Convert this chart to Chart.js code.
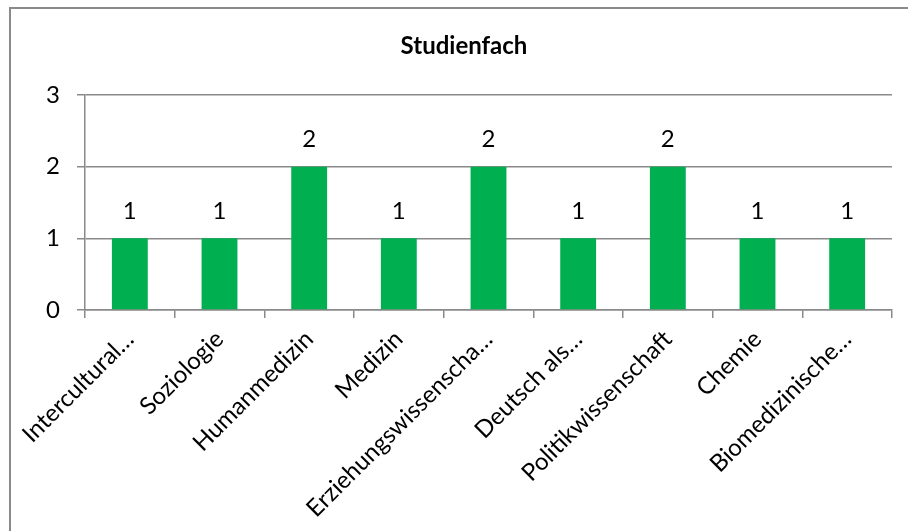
<!DOCTYPE html>
<html>
<head>
<meta charset="utf-8">
<script src="https://cdn.jsdelivr.net/npm/chart.js@4/dist/chart.umd.min.js"></script>
<style>
  html, body { margin: 0; padding: 0; background: #ffffff; overflow: hidden; }
  #wrap { position: relative; width: 908px; height: 531px; overflow: hidden; }
  #frame { position: absolute; left: 9px; top: 7px; width: 1000px; height: 1000px; border: 2px solid #8a8a8a; box-sizing: border-box; }
  canvas { position: absolute; left: 0; top: 0; }
</style>
</head>
<body>
<div id="wrap">
  <div id="frame"></div>
  <canvas id="c" width="908" height="531"></canvas>
</div>
<script>
const chartTitle = "Studienfach";
const categories = [
  "Intercultural…",
  "Soziologie",
  "Humanmedizin",
  "Medizin",
  "Erziehungswissenscha…",
  "Deutsch als…",
  "Politikwissenschaft",
  "Chemie",
  "Biomedizinische…"
];
const counts = [1, 1, 2, 1, 2, 1, 2, 1, 1];
const yTickValues = [0, 1, 2, 3];

const FONT = "Lato, 'Open Sans', sans-serif";
const gridColor = "#8a8a8a";

const valueLabels = {
  id: "valueLabels",
  afterDatasetsDraw(chart) {
    const ctx = chart.ctx;
    const meta = chart.getDatasetMeta(0);
    ctx.save();
    ctx.font = "24px " + FONT;
    ctx.fillStyle = "#000000";
    ctx.textAlign = "center";
    ctx.textBaseline = "middle";
    meta.data.forEach((bar, i) => {
      ctx.fillText(String(counts[i]), bar.x, bar.y - 27);
    });
    ctx.restore();
  }
};

new Chart(document.getElementById("c"), {
  type: "bar",
  data: {
    labels: categories,
    datasets: [{
      data: counts,
      backgroundColor: "#00b050",
      borderWidth: 0,
      barPercentage: 0.4,
      categoryPercentage: 1.0
    }]
  },
  options: {
    responsive: false,
    animation: false,
    devicePixelRatio: 1,
    layout: { padding: { left: 36, right: 16, top: 0, bottom: 0 } },
    plugins: {
      legend: { display: false },
      tooltip: { enabled: false },
      title: {
        display: true,
        text: chartTitle,
        color: "#000000",
        font: { family: FONT, size: 24, weight: "bold" },
        padding: { top: 31.6, bottom: 34.6 }
      }
    },
    scales: {
      x: {
        offset: true,
        grid: {
          offset: true,
          drawOnChartArea: false,
          drawTicks: true,
          tickLength: 8,
          color: gridColor,
          lineWidth: 1.5
        },
        border: { display: true, color: gridColor, width: 1.5 },
        ticks: {
          autoSkip: false,
          minRotation: 45,
          maxRotation: 45,
          color: "#000000",
          padding: 7,
          font: { family: FONT, size: 24 }
        },
        afterFit(scale) { scale.height = 221; }
      },
      y: {
        min: 0,
        max: 3,
        afterBuildTicks(scale) { scale.ticks = yTickValues.map(v => ({ value: v })); },
        grid: {
          drawTicks: true,
          tickLength: 8,
          color: gridColor,
          lineWidth: 1.5
        },
        border: { display: true, color: gridColor, width: 1.5 },
        ticks: {
          color: "#000000",
          padding: 17,
          font: { family: FONT, size: 24 }
        },
        afterFit(scale) { scale.width = 49; }
      }
    }
  },
  plugins: [valueLabels]
});
</script>
</body>
</html>
